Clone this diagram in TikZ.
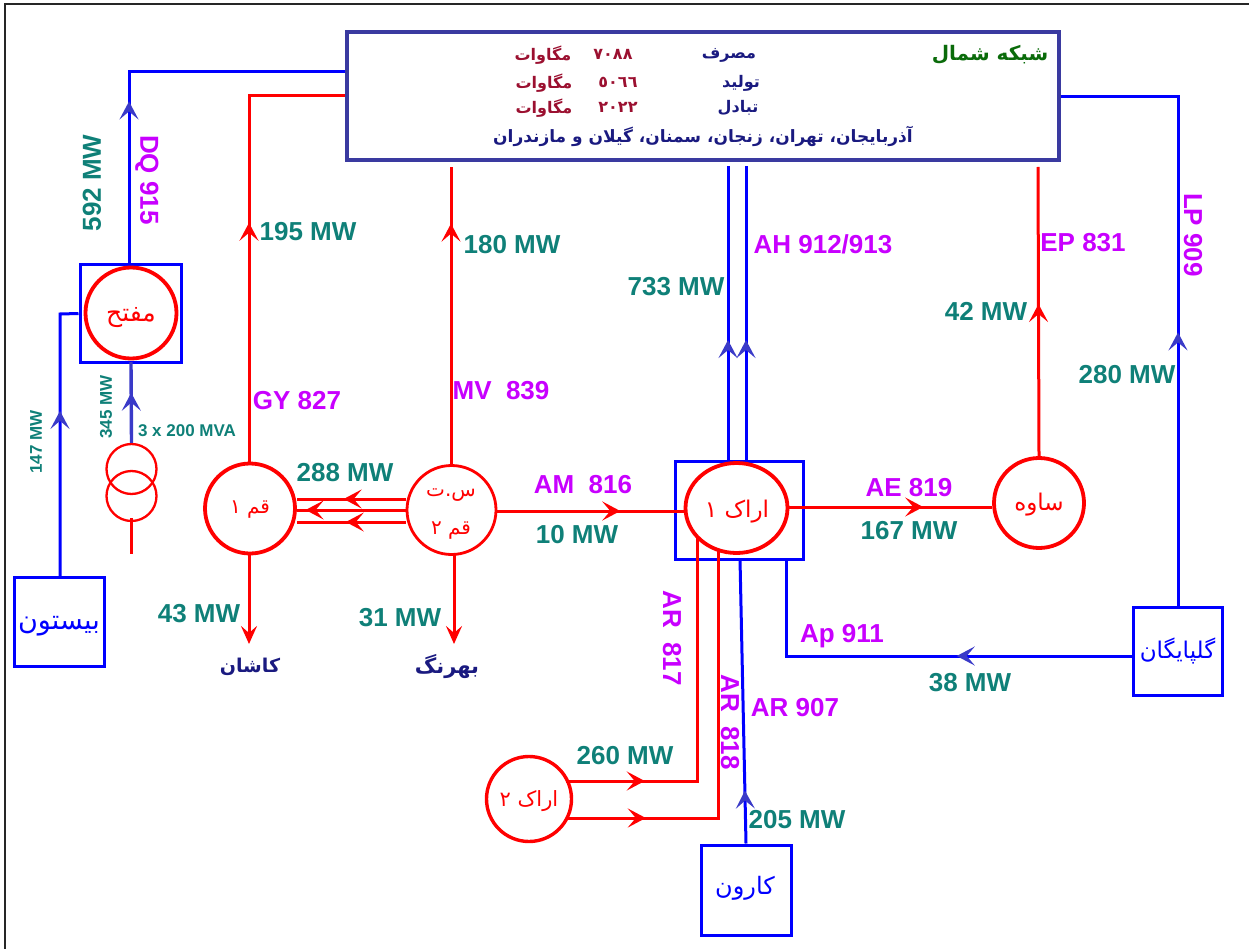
\documentclass[tikz,border=0pt]{standalone}
\usepackage{fontspec}
\setmainfont{Liberation Sans}
\newfontfamily\arabicfont[Script=Arabic]{DejaVu Sans}
\TeXXeTstate=1
\usetikzlibrary{arrows.meta,decorations.markings,calc,shapes.geometric}
\definecolor{lred}{HTML}{FF0000}
\definecolor{lblue}{HTML}{0000FF}
\definecolor{dblue}{HTML}{3A3AA0}
\definecolor{ablue}{HTML}{3A3AC8}
\definecolor{tealt}{HTML}{0F8078}
\definecolor{magt}{HTML}{C800FF}
\definecolor{navyt}{HTML}{1A1A80}
\definecolor{wine}{HTML}{9B1030}
\definecolor{greent}{HTML}{0A6B0A}
\newcommand{\fs}[1]{\fontsize{#1}{#1}\selectfont\arabicfont\bfseries}
\newcommand{\fr}[1]{\fontsize{#1}{#1}\selectfont\arabicfont}
\tikzset{
  barb/.tip={Stealth[length=18pt,width=19pt,inset=8pt]},
  mid/.style={postaction={decorate},decoration={markings,mark=at position #1 with {\arrow{barb}}}},
  midb/.style={postaction={decorate},decoration={markings,mark=at position #1 with {\arrow[ablue]{barb}}}},
  redline/.style={draw=lred,line width=3pt},
  blueline/.style={draw=lblue,line width=3pt},
  darkline/.style={draw=ablue,line width=3.4pt},
  station/.style={circle,draw=lred,line width=3.8pt,inner sep=0pt},
  thinstation/.style={station,line width=2.8pt},
  bluebox/.style={rectangle,draw=lblue,line width=3pt,inner sep=0pt},
  mw/.style={text=tealt,font=\bfseries\fontsize{26}{26}\selectfont,inner sep=0pt},
  smallmw/.style={text=tealt,font=\bfseries\fontsize{17}{17}\selectfont,inner sep=0pt},
  lineid/.style={text=magt,font=\bfseries\fontsize{26}{26}\selectfont,inner sep=0pt},
  plain/.style={inner sep=0pt},
  redtxt/.style={plain,text=lred},
  bluetxt/.style={plain,text=lblue},
}
\begin{document}
\begin{tikzpicture}[x=1pt,y=-1pt]
\useasboundingbox (0,0) rectangle (1249,949);
\draw[black!85,line width=2pt] (5,949) -- (5,4) -- (1249,4);
% boxes
\node[rectangle,draw=dblue,line width=4.2pt,minimum width=712pt,minimum height=128pt,inner sep=0pt] (main) at (703,96) {};
\node[bluebox,minimum width=101pt,minimum height=97pt] (fbox) at (130.5,313.5) {};
\node[station,minimum size=91pt] (fatah) at (131,313) {};
\node[bluebox,minimum width=90pt,minimum height=89pt] (biston) at (59,621.5) {};
\node[bluebox,minimum width=89pt,minimum height=88pt] (golp) at (1177.5,651) {};
\node[bluebox,minimum width=90pt,minimum height=90pt] (karun) at (746,890) {};
\node[bluebox,minimum width=128pt,minimum height=98pt] (abox) at (739,510) {};
\node[station,minimum size=90pt] (qom) at (250,508.5) {};
\node[thinstation,minimum size=89pt] (stet) at (451.5,510) {};
\node[ellipse,draw=lred,line width=3.8pt,minimum width=102pt,minimum height=90pt,inner sep=0pt] (arak) at (736.5,508) {};
\node[station,minimum size=90pt] (saveh) at (1039,503) {};
\node[station,line width=3.4pt,minimum size=85pt] (arak2) at (529,799) {};
\node[circle,draw=lred,line width=2.3pt,minimum size=50pt,inner sep=0pt] (tr1) at (131.5,469) {};
\node[circle,draw=lred,line width=2.3pt,minimum size=50pt,inner sep=0pt] (tr2) at (131.5,496) {};
% node names
\node[redtxt] (tfat) at (131,318) {\fr{25}\beginR مفتح\endR};
\node[bluetxt] (tbis) at (59,626) {\fr{27}\beginR بیستون\endR};
\node[bluetxt] (tgol) at (1177.5,651) {\fr{23}\beginR گلپایگان\endR};
\node[bluetxt] (tkar) at (745,888) {\fr{24}\beginR کارون\endR};
\node[redtxt] (tqom) at (250,510) {\fr{20}\beginR قم ۱\endR};
\node[redtxt] (stet1) at (451,495) {\fr{20}\beginR س.ت\endR};
\node[redtxt] (stet2) at (451,531) {\fr{20}\beginR قم ۲\endR};
\node[redtxt] (tar1) at (737,512) {\fr{23}\beginR اراک ۱\endR};
\node[redtxt] (tsav) at (1039,505) {\fr{23}\beginR ساوه\endR};
\node[redtxt] (tar2) at (529,801) {\fr{21}\beginR اراک ۲\endR};
\node[plain,text=navyt] (kashan) at (250,667) {\fs{19}\beginR کاشان\endR};
\node[plain,text=navyt] (behrang) at (447,667) {\fs{21}\beginR بهرنگ\endR};
% ports
\coordinate (fT) at (129,265);
\coordinate (qomT) at (249,464);
\coordinate (qomB) at (249,554);
\coordinate (stetT) at (451,465);
\coordinate (stetB) at (454,555);
\coordinate (kashE) at (249,644);
\coordinate (behE) at (454,644);
\coordinate (trE) at (131,554);
\coordinate (trS) at (131,518);
\coordinate (fatB) at (131,362);
\coordinate (bisT) at (60,577);
\coordinate (ep) at (1038,167);
\coordinate (ahA) at (728,166);
\coordinate (ahB) at (746,166);
\coordinate (lpB) at (1178,607);
\coordinate (mvT) at (451,167);
\coordinate (ahAb) at (728,461);
\coordinate (ahBb) at (746,461);
\coordinate (a2u) at (566,781);
\coordinate (a2l) at (566,818);
\coordinate (arU) at (697,537);
\coordinate (arL) at (718,550);
\coordinate (karT) at (740,559);
\coordinate (apT) at (786,559);
% connectors
\draw[blueline,midb=0.40] (fT) -- (129,72) -- (main.west |- 0,72);
\draw[redline,mid=0.52] (qomT) -- (249,96) -- (main.west |- 0,96);
\draw[redline,mid=0.81] (stetT) -- (mvT);
\draw[blueline,midb=0.41] (ahAb) -- (ahA);
\draw[blueline,midb=0.41] (ahBb) -- (ahB);
\draw[redline,mid=0.526] (saveh.north) -- (ep);
\draw[blueline,midb=0.438] (lpB) -- (1178,97) -- (main.east |- 0,97);
\draw[redline,mid=0.66] (arak.east |- 0,507) -- (saveh.west |- 0,507);
\draw[redline,mid=0.66] (stet.east |- 0,511) -- (arak.west |- 0,511);
\draw[redline,mid=0.57] (stet.west |- 0,499) -- (qom.east |- 0,499);
\draw[redline,mid=0.92] (stet.west |- 0,510) -- (qom.east |- 0,510);
\draw[redline,mid=0.55] (stet.west |- 0,522) -- (qom.east |- 0,522);
\draw[redline,-{Stealth[length=18pt,width=16pt,inset=7pt]}] (qomB) -- (kashE);
\draw[redline,-{Stealth[length=18pt,width=16pt,inset=7pt]}] (stetB) -- (behE);
\draw[blueline,midb=0.59] (bisT) -- (60,314) -- (fbox.west);
\draw[darkline,mid=0.62] (tr1.north) -- (fatB);
\draw[redline] (trS) -- (trE);
\draw[redline,mid=0.21] (a2u) -- (697,781) -- (arU);
\draw[redline,mid=0.19] (a2l) -- (718,818) -- (arL);
\draw[blueline,midb=0.186] (karun.north) -- (karT);
\draw[blueline,midb=0.395] (golp.west |- 0,656) -- (786,656) -- (apT);
% labels
\node[mw,rotate=90] (l592) at (92,183) {592 MW};
\node[lineid,rotate=-90] (ldq) at (147,180) {DQ 915};
\node[mw] (l195) at (308,232) {195 MW};
\node[mw] (l180) at (512,245) {180 MW};
\node[lineid] (lgy) at (297,401) {GY 827};
\node[lineid] (lmv) at (501,391) {MV\ \ 839};
\node[mw] (l288) at (345,473) {288 MW};
\node[lineid] (lam) at (583,485) {AM\ \ 816};
\node[mw] (l10) at (577,535) {10 MW};
\node[lineid] (lae) at (909,488) {AE 819};
\node[mw] (l167) at (909,531) {167 MW};
\node[mw] (l733) at (676,287) {733 MW};
\node[lineid] (lah) at (823,244) {AH 912/913};
\node[lineid] (lep) at (1083,243) {EP 831};
\node[mw] (l42) at (986,311) {42 MW};
\node[mw] (l280) at (1127,375) {280 MW};
\node[lineid,rotate=-90] (llp) at (1193,235) {LP 909};
\node[lineid] (lap) at (842,636) {Ap 911};
\node[mw] (l38) at (970,683) {38 MW};
\node[lineid] (lar7) at (795,708) {AR 907};
\node[lineid,rotate=-90] (lar1) at (672,638) {AR\ \ 817};
\node[lineid,rotate=-90] (lar8) at (730,722) {AR\ \ 818};
\node[mw] (l260) at (625,756) {260 MW};
\node[mw] (l205) at (797,820) {205 MW};
\node[mw] (l43) at (199,614) {43 MW};
\node[mw] (l31) at (400,618) {31 MW};
\node[smallmw,rotate=90] (l345) at (106,407) {345 MW};
\node[smallmw,rotate=90] (l147) at (36,442) {147 MW};
\node[smallmw] (lmva) at (187,431) {3 x 200 MVA};
% box text
\node[plain,text=greent] (tnorth) at (990,55) {\fs{20}\beginR شبکه شمال\endR};
\node[plain,text=navyt] (t1) at (729,55) {\fs{16}\beginR مصرف\endR};
\node[plain,text=navyt] (t2) at (741,83) {\fs{16}\beginR تولید\endR};
\node[plain,text=navyt] (t3) at (738,108) {\fs{16}\beginR تبادل\endR};
\node[plain,text=wine] (n1) at (613,54) {\fs{16}٧٠٨٨};
\node[plain,text=wine] (n2) at (618,82) {\fs{16}٥٠٦٦};
\node[plain,text=wine] (n3) at (618,107) {\fs{16}٢٠٢٢};
\node[plain,text=wine] (m1) at (543,55) {\fs{16}\beginR مگاوات\endR};
\node[plain,text=wine] (m2) at (544,83) {\fs{16}\beginR مگاوات\endR};
\node[plain,text=wine] (m3) at (544,108) {\fs{16}\beginR مگاوات\endR};
\node[plain,text=navyt] (prov) at (703,136) {\fs{17}\beginR آذربایجان، تهران، زنجان، سمنان، گیلان و مازندران\endR};
\end{tikzpicture}
\end{document}
